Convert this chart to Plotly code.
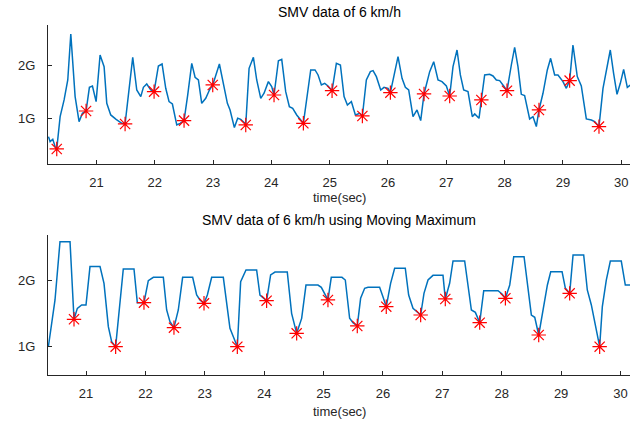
import plotly.graph_objects as go

# ---- top panel: raw SMV data ----
top_t = [20.178, 20.206, 20.252, 20.292, 20.320, 20.378, 20.446, 20.509, 20.561, 20.635,
         20.703, 20.760, 20.823, 20.880, 20.932, 20.995, 21.063, 21.132, 21.178, 21.246,
         21.338, 21.435, 21.492, 21.623, 21.692, 21.761, 21.806, 21.863, 21.932, 21.989,
         22.063, 22.126, 22.189, 22.246, 22.303, 22.378, 22.435, 22.503, 22.566, 22.635,
         22.692, 22.749, 22.806, 22.875, 22.938, 22.995, 23.109, 23.178, 23.246, 23.292,
         23.366, 23.423, 23.475, 23.549, 23.561, 23.618, 23.692, 23.749, 23.818, 23.875,
         23.949, 24.006, 24.046, 24.121, 24.178, 24.246, 24.309, 24.366, 24.435, 24.549,
         24.618, 24.675, 24.749, 24.801, 24.858, 24.915, 24.972, 25.041, 25.115, 25.184,
         25.247, 25.304, 25.372, 25.441, 25.515, 25.561, 25.629, 25.698, 25.744, 25.801,
         25.875, 25.932, 26.001, 26.041, 26.172, 26.241, 26.298, 26.355, 26.429, 26.498,
         26.561, 26.618, 26.715, 26.784, 26.858, 26.926, 27.001, 27.058, 27.115, 27.184,
         27.241, 27.298, 27.372, 27.446, 27.487, 27.561, 27.601, 27.658, 27.744, 27.801,
         27.858, 27.915, 27.984, 28.041, 28.115, 28.172, 28.229, 28.286, 28.343, 28.429,
         28.487, 28.544, 28.589, 28.658, 28.732, 28.789, 28.858, 28.915, 29.001, 29.058,
         29.115, 29.172, 29.246, 29.315, 29.401, 29.487, 29.544, 29.618, 29.687, 29.744,
         29.812, 29.869, 29.927, 29.984, 30.041, 30.104, 30.155]
top_smv = [0.661, 0.567, 0.611, 0.472, 0.428, 1.038, 1.353, 1.730, 2.598, 1.416,
           0.944, 1.101, 1.145, 1.592, 1.617, 1.321, 2.202, 1.982, 1.290, 1.070,
           0.988, 0.912, 0.900, 2.158, 1.541, 1.415, 1.592, 1.655, 1.541, 1.510,
           1.994, 2.032, 1.573, 1.321, 1.277, 0.881, 0.912, 0.963, 1.447, 2.045,
           1.781, 1.730, 1.290, 1.384, 1.541, 1.636, 2.032, 1.667, 1.290, 1.164,
           0.831, 1.007, 0.988, 0.912, 0.881, 1.950, 2.158, 1.730, 1.384, 1.479,
           1.699, 1.604, 1.447, 2.094, 2.120, 1.510, 1.227, 1.196, 1.070, 0.912,
           1.447, 1.919, 1.919, 1.825, 1.636, 1.667, 1.617, 1.528, 2.045, 2.013,
           1.416, 1.258, 1.321, 1.070, 1.101, 1.051, 1.730, 1.887, 1.906, 1.793,
           1.541, 1.592, 1.573, 1.491, 2.170, 1.762, 1.592, 1.541, 1.038, 1.164,
           0.963, 1.466, 1.887, 2.076, 1.730, 1.699, 1.617, 1.428, 1.982, 2.296,
           1.825, 1.541, 1.510, 1.038, 1.089, 1.007, 1.353, 1.825, 1.837, 1.806,
           1.730, 1.718, 1.617, 1.528, 2.013, 2.346, 1.982, 1.459, 1.434, 0.994,
           1.038, 0.850, 1.164, 1.479, 1.919, 2.139, 1.825, 1.825, 1.699, 1.573,
           1.718, 2.390, 1.793, 1.617, 0.994, 0.975, 0.944, 0.850, 1.573, 1.919,
           2.296, 1.856, 1.459, 1.667, 1.931, 1.592, 1.636]
top_peak_t = [20.320, 20.823, 21.492, 21.989, 22.503, 22.995, 23.561, 24.046, 24.549, 25.041,
              25.561, 26.041, 26.618, 27.058, 27.601, 28.041, 28.589, 29.115, 29.618]
top_peak_v = [0.428, 1.145, 0.900, 1.510, 0.963, 1.636, 0.881, 1.447, 0.912, 1.528,
              1.051, 1.491, 1.466, 1.428, 1.353, 1.528, 1.164, 1.718, 0.850]

# ---- bottom panel: moving maximum ----
mm_t = [20.366, 20.478, 20.562, 20.731, 20.798, 20.854, 20.927, 21.000, 21.067, 21.236,
        21.303, 21.376, 21.432, 21.499, 21.628, 21.808, 21.864, 21.937, 21.976, 22.049,
        22.134, 22.302, 22.358, 22.414, 22.481, 22.554, 22.627, 22.796, 22.863, 22.919,
        22.987, 23.043, 23.116, 23.312, 23.424, 23.548, 23.604, 23.694, 23.873, 23.929,
        24.041, 24.109, 24.182, 24.389, 24.462, 24.547, 24.631, 24.704, 24.906, 24.962,
        25.074, 25.130, 25.310, 25.366, 25.439, 25.495, 25.568, 25.624, 25.692, 25.748,
        25.944, 26.000, 26.056, 26.129, 26.197, 26.376, 26.433, 26.506, 26.579, 26.635,
        26.691, 26.759, 26.843, 27.011, 27.050, 27.123, 27.180, 27.376, 27.489, 27.556,
        27.629, 27.697, 27.938, 28.005, 28.062, 28.135, 28.202, 28.376, 28.499, 28.556,
        28.623, 28.696, 28.769, 28.825, 29.016, 29.072, 29.144, 29.201, 29.380, 29.441,
        29.509, 29.576, 29.649, 29.694, 29.761, 29.829, 30.013, 30.081, 30.165]
mm_smv = [1.000, 1.708, 2.591, 2.591, 1.415, 1.581, 1.632, 1.632, 2.213, 2.213,
          1.960, 1.303, 1.076, 1.000, 2.177, 2.177, 1.667, 1.667, 1.667, 2.000,
          2.051, 2.051, 1.556, 1.379, 1.288, 1.556, 2.051, 2.051, 1.783, 1.708,
          1.657, 1.783, 2.051, 2.051, 1.278, 1.000, 1.985, 2.162, 2.162, 1.783,
          1.697, 2.086, 2.131, 2.131, 1.505, 1.202, 1.429, 1.934, 1.934, 1.899,
          1.708, 2.051, 2.051, 2.010, 1.430, 1.364, 1.314, 1.733, 1.884, 1.899,
          1.899, 1.758, 1.606, 1.960, 2.188, 2.188, 1.783, 1.581, 1.530, 1.480,
          1.808, 2.010, 2.081, 2.081, 1.723, 1.960, 2.298, 2.298, 1.556, 1.520,
          1.364, 1.849, 1.849, 1.798, 1.733, 1.935, 2.364, 2.364, 1.480, 1.445,
          1.177, 1.556, 1.935, 2.136, 2.136, 1.884, 1.808, 2.389, 2.389, 1.859,
          1.632, 1.329, 1.000, 1.607, 2.010, 2.298, 2.298, 1.934, 1.934]
mm_peak_t = [20.798, 21.499, 21.976, 22.481, 22.987, 23.548, 24.041, 24.547, 25.074,
             25.568, 26.056, 26.635, 27.050, 27.629, 28.062, 28.623, 29.144, 29.649]
mm_peak_v = [1.415, 1.000, 1.667, 1.288, 1.657, 1.000, 1.697, 1.202, 1.708,
             1.314, 1.606, 1.480, 1.723, 1.364, 1.733, 1.177, 1.808, 1.000]

x_ticks = [21, 22, 23, 24, 25, 26, 27, 28, 29, 30]
y_ticks = [1, 2]
y_tick_labels = ["1G", "2G"]
titles = ["SMV data of 6 km/h", "SMV data of 6 km/h using Moving Maximum"]
x_label = "time(sec)"

LINE = "#0072BD"
AX = "#262626"
FONT = "Liberation Sans, Arial, sans-serif"

fig = go.Figure()
fig.add_trace(go.Scatter(x=top_t, y=top_smv, mode="lines",
                         line=dict(color=LINE, width=1.5), xaxis="x", yaxis="y",
                         showlegend=False))
fig.add_trace(go.Scatter(x=top_peak_t, y=top_peak_v, mode="markers",
                         marker=dict(symbol="asterisk-open", size=12, color="red",
                                     line=dict(color="red", width=1.2)),
                         xaxis="x", yaxis="y", showlegend=False))
fig.add_trace(go.Scatter(x=mm_t, y=mm_smv, mode="lines",
                         line=dict(color=LINE, width=1.5), xaxis="x2", yaxis="y2",
                         showlegend=False))
fig.add_trace(go.Scatter(x=mm_peak_t, y=mm_peak_v, mode="markers",
                         marker=dict(symbol="asterisk-open", size=12, color="red",
                                     line=dict(color="red", width=1.2)),
                         xaxis="x2", yaxis="y2", showlegend=False))

xcommon = dict(tickvals=x_ticks, ticks="inside", ticklen=4, tickcolor=AX,
               showline=True, linecolor=AX, linewidth=1, showgrid=False,
               zeroline=False, tickfont=dict(size=13, color=AX, family=FONT),
               ticklabelstandoff=6)
ycommon = dict(tickvals=y_ticks, ticktext=y_tick_labels, ticks="inside", ticklen=4,
               tickcolor=AX, showline=True, linecolor=AX, linewidth=1,
               showgrid=False, zeroline=False,
               tickfont=dict(size=13, color=AX, family=FONT), ticklabelstandoff=9)

fig.update_layout(
    width=638, height=425,
    margin=dict(l=48, r=8, t=25, b=50),
    paper_bgcolor="white", plot_bgcolor="white",
    font=dict(family=FONT, color=AX),
    xaxis=dict(domain=[0, 1], range=[20.17, 30.15], anchor="y", **xcommon),
    yaxis=dict(domain=[0.603, 1.0], range=[0.145, 2.768], anchor="x", **ycommon),
    xaxis2=dict(domain=[0, 1], range=[20.36, 30.16], anchor="y2", **xcommon),
    yaxis2=dict(domain=[0.0, 0.4], range=[0.571, 2.692], anchor="x2", **ycommon),
    annotations=[
        dict(text=titles[0], x=0.5, y=1.037, xref="paper", yref="paper",
             showarrow=False, xanchor="center", yanchor="middle",
             font=dict(size=14, color="black", family=FONT)),
        dict(text=x_label, x=0.5, y=0.506, xref="paper", yref="paper",
             showarrow=False, xanchor="center", yanchor="middle",
             font=dict(size=13, color=AX, family=FONT)),
        dict(text=titles[1], x=0.5, y=0.443, xref="paper", yref="paper",
             showarrow=False, xanchor="center", yanchor="middle",
             font=dict(size=14, color="black", family=FONT)),
        dict(text=x_label, x=0.5, y=-0.103, xref="paper", yref="paper",
             showarrow=False, xanchor="center", yanchor="middle",
             font=dict(size=13, color=AX, family=FONT)),
    ],
)

# remove the default 8px page margin so the 638x425 figure fills the window
fig.write_html("out.html", config={"displayModeBar": False},
               post_script="document.body.style.margin='0';")
